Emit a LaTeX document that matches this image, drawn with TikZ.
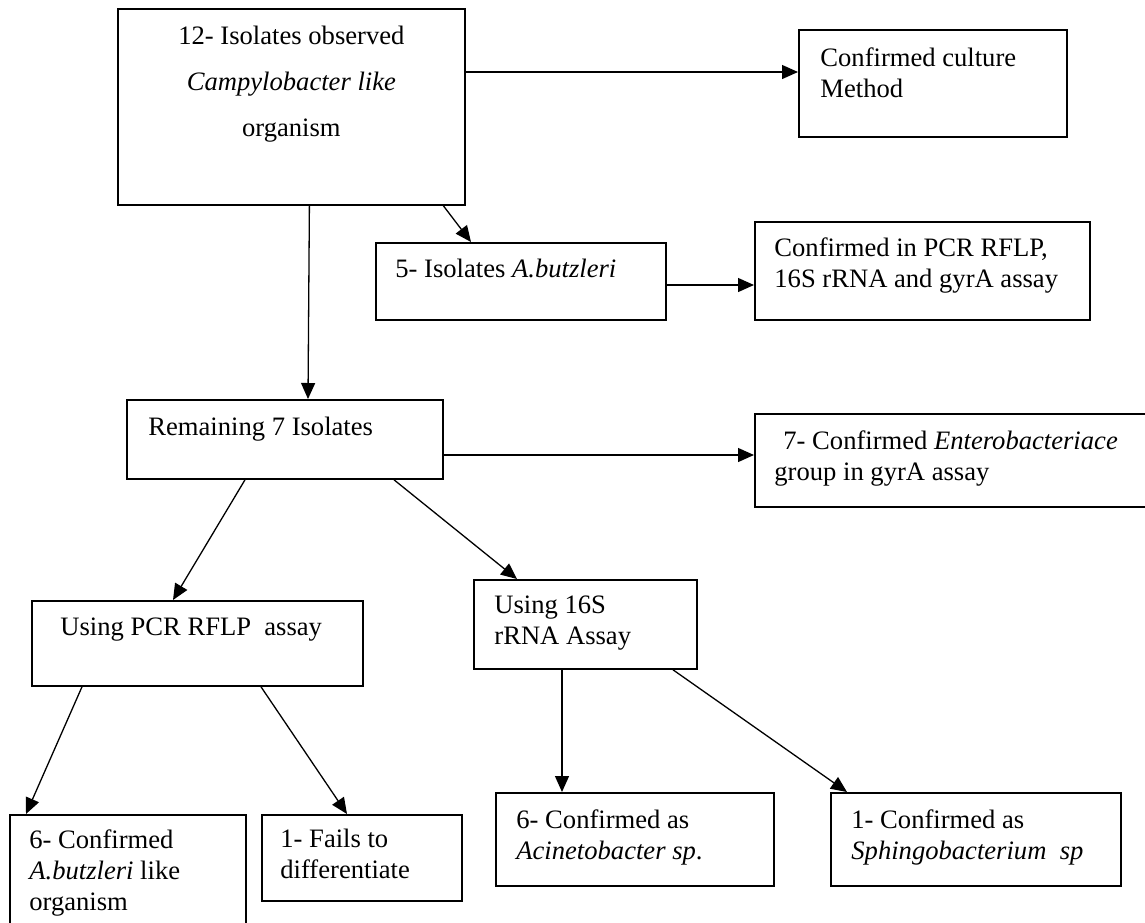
\documentclass[tikz,border=0pt]{standalone}
\usepackage{fontspec}
\setmainfont{Liberation Serif}
\usetikzlibrary{arrows.meta}
\tikzset{box/.style={draw, line width=.9pt, inner sep=0pt, anchor=north west}}
\tikzset{txt/.style={inner sep=0pt, anchor=north west, align=left, font=\fontsize{13.3}{15.5}\selectfont}}
\tikzset{arr/.style={line width=.65pt, -{Triangle[length=8pt,width=7pt]}}}

\begin{document}
\begin{tikzpicture}[x=.5pt,y=-.5pt]
\useasboundingbox (0,0) rectangle (1145,922);
% boxes
\node[box, minimum width=173.5pt, minimum height=98pt] (obs) at (117,8) {};
\node[box, minimum width=134pt, minimum height=53.5pt] (cult) at (798,29) {};
\node[box, minimum width=145pt, minimum height=38.5pt] (iso5) at (375,242) {};
\node[box, minimum width=167.5pt, minimum height=49pt] (pcrok) at (754,221) {};
\node[box, minimum width=158pt, minimum height=39.5pt] (rem) at (126,399) {};
\node[box, minimum width=203pt, minimum height=46.5pt] (entero) at (754,413) {};
\node[box, minimum width=165.5pt, minimum height=42.5pt] (pcr) at (31,600) {};
\node[box, minimum width=111.5pt, minimum height=44.5pt] (s16) at (473,579) {};
\node[box, minimum width=118pt, minimum height=60.5pt] (abut) at (9,814) {};
\node[box, minimum width=100pt, minimum height=43pt] (fail) at (261,814) {};
\node[box, minimum width=139pt, minimum height=46.5pt] (acin) at (495,792) {};
\node[box, minimum width=145pt, minimum height=46.5pt] (sphi) at (830,792) {};
% texts
\node[txt, anchor=north, align=center, font=\fontsize{13.3}{23}\selectfont] (obs-t) at ([shift={(0,18)}]obs.north) {12- Isolates observed\\\textit{Campylobacter like}\\organism};
\node[txt] (cult-t) at ([shift={(22,18)}]cult.north west) {Confirmed culture\\Method};
\node[txt] (iso5-t) at ([shift={(20,17)}]iso5.north west) {5- Isolates \textit{A.butzleri}};
\node[txt] (pcrok-t) at ([shift={(20,16)}]pcrok.north west) {Confirmed in PCR RFLP,\\16S rRNA and gyrA assay};
\node[txt] (rem-t) at ([shift={(22,18)}]rem.north west) {Remaining 7 Isolates};
\node[txt] (entero-t) at ([shift={(20,17)}]entero.north west) {\hspace*{4.5pt}7- Confirmed \textit{Enterobacteriace}\\group in gyrA assay};
\node[txt] (pcr-t) at ([shift={(29,17)}]pcr.north west) {Using PCR RFLP\ \ assay};
\node[txt] (s16-t) at ([shift={(21,16)}]s16.north west) {Using 16S\\rRNA Assay};
\node[txt] (abut-t) at ([shift={(20,15)}]abut.north west) {6- Confirmed\\\textit{A.butzleri} like\\organism};
\node[txt] (fail-t) at ([shift={(19,15)}]fail.north west) {1- Fails to\\differentiate};
\node[txt] (acin-t) at ([shift={(21,17)}]acin.north west) {6- Confirmed as\\\textit{Acinetobacter sp}.};
\node[txt] (sphi-t) at ([shift={(21,17)}]sphi.north west) {1- Confirmed as\\\textit{Sphingobacterium\ \ sp}};
% arrows
\draw[arr] ([shift={(0,64)}]obs.north east) -- ([shift={(0,43)}]cult.north west);
\draw[arr] ([shift={(152,0)}]obs.south) -- ([shift={(96,0)}]iso5.north west);
\draw[arr] ([shift={(0,43)}]iso5.north east) -- ([shift={(0,64)}]pcrok.north west);
\draw[arr] ([shift={(18,0)}]obs.south) -- ([shift={(182,0)}]rem.north west);
\draw[arr] ([shift={(0,56)}]rem.north east) -- ([shift={(0,42)}]entero.north west);
\draw[arr] ([shift={(119,0)}]rem.south west) -- ([shift={(142,0)}]pcr.north west);
\draw[arr] ([shift={(268,0)}]rem.south west) -- ([shift={(44,0)}]s16.north west);
\draw[arr] ([shift={(51,0)}]pcr.south west) -- ([shift={(17,0)}]abut.north west);
\draw[arr] ([shift={(230,0)}]pcr.south west) -- ([shift={(86,0)}]fail.north west);
\draw[arr] ([shift={(89,0)}]s16.south west) -- ([shift={(67,0)}]acin.north west);
\draw[arr] ([shift={(200,0)}]s16.south west) -- ([shift={(17,0)}]sphi.north west);
\end{tikzpicture}
\end{document}
